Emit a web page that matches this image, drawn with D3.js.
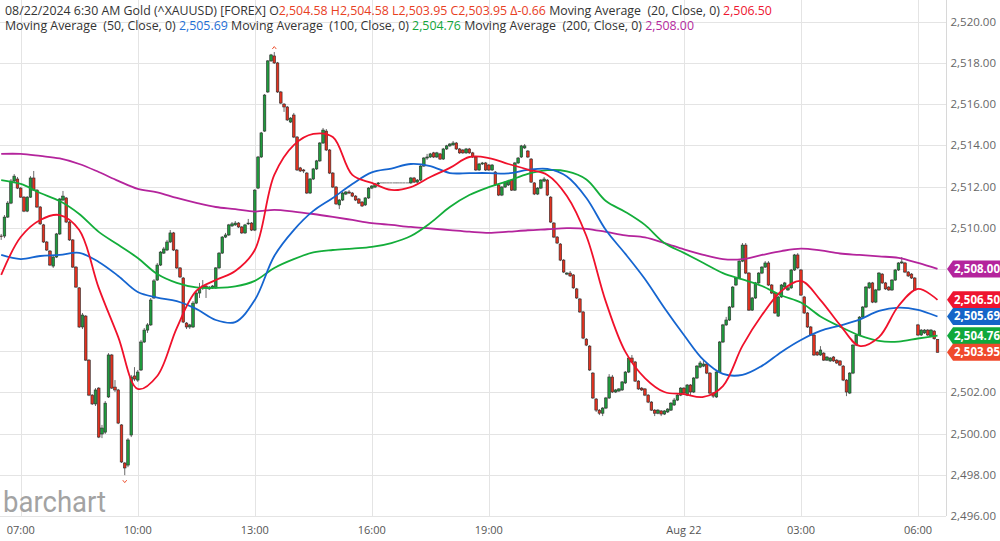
<!DOCTYPE html>
<html><head><meta charset="utf-8">
<script src="https://cdn.jsdelivr.net/npm/d3@7"></script>
<style>
html,body{margin:0;padding:0;background:#fff;}
svg{display:block;font-family:"Open Sans",sans-serif;}
</style></head><body>
<svg id="c" width="1000" height="541"></svg>
<script>
// ---------------- DATA ----------------
const startTime = new Date(2024, 7, 21, 6, 30);
const endTime = new Date(2024, 7, 22, 6, 30);
const barMinutes = 5;
const maStepMinutes = 30;

const openVals = [
2509.60,2509.60,2510.52,2511.20,2512.27,2512.37,2511.93,2511.49,2510.81,2511.49,
2512.42,2511.83,2511.01,2510.14,2509.31,2508.87,2508.14,2508.58,2509.70,2511.35,
2511.45,2510.28,2509.41,2508.09,2507.08,2505.18,2505.71,2503.57,2501.87,2501.44,
2502.21,2499.98,2500.07,2501.78,2503.82,2502.26,2502.12,2500.42,2498.57,2498.47,
2499.93,2502.80,2502.60,2503.09,2504.45,2505.03,2505.28,2506.59,2507.46,2508.19,
2508.77,2508.92,2509.31,2509.75,2508.92,2508.05,2507.56,2505.37,2505.18,2505.18,
2506.34,2506.83,2507.08,2507.17,2507.03,2507.08,2507.08,2508.05,2508.77,2509.55,
2509.65,2510.09,2510.14,2510.23,2510.04,2509.75,2510.19,2510.23,2509.89,2511.93,
2513.44,2514.70,2516.60,2518.11,2518.35,2518.01,2516.60,2516.01,2515.87,2515.14,
2515.48,2514.41,2512.91,2512.81,2512.66,2511.69,2512.37,2512.86,2513.25,2514.12,
2514.70,2513.78,2512.66,2511.98,2511.11,2511.35,2511.64,2511.74,2511.69,2511.54,
2511.40,2511.25,2511.11,2511.45,2511.93,2511.98,2512.13,2512.18,2512.18,2512.18,
2512.18,2512.18,2512.18,2512.18,2512.18,2512.18,2512.18,2512.42,2512.22,2512.32,
2513.00,2513.39,2513.44,2513.64,2513.44,2513.59,2513.34,2513.83,2513.98,2514.03,
2514.12,2513.83,2513.78,2513.64,2513.83,2513.64,2513.44,2512.81,2513.10,2513.15,
2513.05,2512.81,2512.71,2512.08,2511.59,2511.98,2512.08,2512.32,2511.83,2513.15,
2513.44,2513.88,2513.73,2513.34,2512.18,2511.64,2511.93,2512.27,2512.32,2511.49,
2510.23,2509.55,2509.21,2508.43,2507.75,2507.80,2507.71,2507.03,2506.54,2505.91,
2504.59,2504.25,2502.94,2501.68,2501.14,2500.99,2501.24,2501.73,2502.75,2502.02,
2502.07,2502.12,2502.46,2502.99,2503.67,2503.48,2502.55,2502.21,2502.17,2501.87,
2501.53,2501.14,2500.99,2501.10,2500.95,2501.05,2501.14,2501.39,2501.63,2501.87,
2502.21,2501.87,2502.36,2502.02,2502.70,2503.23,2503.28,2503.38,2502.94,2501.97,
2501.78,2502.99,2504.45,2505.28,2505.52,2506.15,2507.22,2507.56,2508.38,2509.16,
2507.80,2506.00,2506.59,2507.32,2507.80,2508.09,2508.29,2507.22,2506.83,2505.71,
2506.64,2507.12,2506.98,2507.08,2507.95,2508.68,2507.95,2506.64,2505.86,2505.18,
2504.79,2503.96,2503.82,2503.91,2503.57,2503.53,2503.72,2503.57,2503.53,2503.28,
2502.60,2501.97,2502.94,2504.30,2504.79,2505.66,2506.15,2507.08,2507.32,2506.39,
2506.98,2507.75,2507.32,2507.12,2506.98,2507.46,2507.95,2508.29,2508.29,2507.85,
2507.75,2507.56,2505.28,2504.79,2504.89,2505.03,2504.74,2504.98,2504.58];

const highVals = [
2509.70,2510.62,2511.30,2512.37,2512.61,2512.47,2511.98,2511.54,2511.54,2512.51,
2512.76,2511.88,2511.06,2510.19,2509.36,2508.92,2508.68,2509.75,2511.45,2511.79,
2511.49,2510.33,2509.45,2508.14,2507.12,2505.86,2505.76,2503.62,2501.92,2502.21,
2502.26,2500.42,2501.58,2503.91,2503.87,2502.60,2502.17,2500.46,2498.62,2499.78,
2502.85,2503.23,2503.09,2504.55,2505.13,2505.37,2506.59,2507.51,2508.29,2508.87,
2509.07,2509.41,2509.89,2509.80,2508.97,2508.09,2507.61,2505.42,2505.33,2506.44,
2506.93,2507.32,2507.46,2507.22,2507.17,2507.22,2508.09,2508.82,2509.60,2509.75,
2510.19,2510.28,2510.33,2510.28,2510.09,2510.19,2510.43,2510.28,2511.88,2513.49,
2514.66,2516.50,2518.15,2518.45,2518.54,2518.06,2516.65,2516.06,2515.92,2515.38,
2515.58,2514.46,2512.96,2512.86,2512.71,2512.42,2512.91,2513.30,2514.17,2514.85,
2514.80,2513.83,2512.71,2512.03,2511.40,2511.74,2511.79,2511.83,2511.74,2511.59,
2511.45,2511.30,2511.49,2511.98,2512.08,2512.18,2512.22,2512.18,2512.18,2512.18,
2512.18,2512.18,2512.18,2512.18,2512.18,2512.18,2512.47,2512.47,2512.37,2513.05,
2513.44,2513.59,2513.64,2513.69,2513.69,2513.64,2513.88,2514.03,2514.12,2514.22,
2514.17,2513.88,2513.83,2513.88,2513.88,2513.69,2513.49,2513.15,2513.20,2513.20,
2513.10,2513.10,2512.76,2512.13,2512.03,2512.27,2512.32,2512.37,2513.20,2513.44,
2514.03,2514.07,2513.78,2513.39,2512.22,2511.98,2512.37,2512.47,2512.37,2511.54,
2510.28,2509.60,2509.26,2508.48,2507.85,2507.90,2507.75,2507.08,2506.59,2505.96,
2504.64,2504.30,2502.99,2501.73,2501.19,2501.29,2501.78,2502.89,2502.85,2502.17,
2502.21,2502.55,2503.04,2503.72,2503.82,2503.53,2502.60,2502.26,2502.21,2501.92,
2501.58,2501.19,2501.19,2501.14,2501.14,2501.24,2501.53,2501.73,2501.92,2502.26,
2502.26,2502.41,2502.41,2502.75,2503.33,2503.53,2503.57,2503.43,2502.99,2502.02,
2503.04,2504.50,2505.33,2505.67,2506.20,2507.17,2507.61,2508.43,2509.26,2509.26,
2507.85,2506.64,2507.37,2507.85,2508.14,2508.38,2508.38,2507.27,2506.88,2506.69,
2507.27,2507.37,2507.12,2508.00,2508.73,2508.77,2508.00,2506.69,2505.91,2505.23,
2504.84,2504.01,2504.25,2503.96,2503.77,2503.72,2503.77,2503.62,2503.57,2503.33,
2502.65,2502.99,2504.35,2504.84,2505.71,2506.20,2507.17,2507.37,2507.37,2507.03,
2507.85,2507.80,2507.37,2507.17,2507.51,2508.00,2508.33,2508.58,2508.34,2507.90,
2507.80,2507.61,2505.33,2505.08,2505.08,2505.08,2505.08,2505.03,2504.58];

const lowVals = [
2509.41,2509.50,2510.48,2511.15,2512.22,2511.88,2511.45,2510.76,2510.76,2511.45,
2511.79,2510.96,2510.14,2509.26,2508.87,2508.14,2508.05,2508.53,2509.65,2511.30,
2510.23,2509.36,2508.05,2507.08,2505.13,2505.08,2503.53,2501.82,2501.39,2501.34,
2499.78,2499.78,2499.98,2501.73,2502.17,2502.02,2500.46,2498.57,2497.98,2498.37,
2499.83,2502.55,2502.51,2503.04,2504.40,2504.89,2505.23,2506.54,2507.42,2508.14,
2508.73,2508.87,2509.26,2508.87,2508.00,2507.56,2505.37,2505.08,2505.08,2505.13,
2506.29,2506.59,2506.98,2506.59,2506.98,2507.03,2507.03,2508.00,2508.73,2509.50,
2509.60,2510.04,2510.09,2509.99,2509.70,2509.70,2510.14,2509.84,2509.84,2511.88,
2513.39,2514.66,2516.55,2518.06,2517.96,2516.55,2516.01,2515.63,2515.19,2515.09,
2514.36,2512.76,2512.71,2512.66,2511.64,2511.64,2512.32,2512.81,2513.20,2514.07,
2513.73,2512.61,2511.93,2511.11,2510.91,2511.30,2511.59,2511.64,2511.49,2511.30,
2511.16,2511.01,2511.06,2511.40,2511.88,2511.93,2512.08,2512.18,2512.18,2512.18,
2512.18,2512.18,2512.18,2512.18,2512.18,2512.18,2512.13,2512.18,2512.18,2512.27,
2512.96,2513.30,2513.39,2513.39,2513.39,2513.30,2513.30,2513.78,2513.93,2513.98,
2513.78,2513.59,2513.59,2513.59,2513.59,2513.39,2512.76,2512.76,2513.05,2512.76,
2512.76,2512.76,2512.03,2511.54,2511.54,2511.93,2512.03,2511.79,2511.79,2513.10,
2513.39,2513.83,2513.39,2512.18,2511.59,2511.59,2511.88,2512.22,2511.54,2510.23,
2509.50,2509.21,2508.38,2507.80,2507.70,2507.61,2507.03,2506.54,2505.86,2504.59,
2504.25,2503.04,2501.68,2501.05,2500.90,2500.85,2501.19,2501.68,2501.97,2501.97,
2502.02,2502.07,2502.41,2502.94,2503.43,2502.51,2502.12,2502.07,2501.82,2501.48,
2501.10,2500.85,2500.94,2500.85,2500.90,2501.00,2501.10,2501.34,2501.58,2501.82,
2501.92,2501.82,2501.87,2501.97,2502.65,2503.18,2503.23,2502.89,2501.92,2501.73,
2501.73,2502.94,2504.40,2505.23,2505.47,2506.10,2507.17,2507.51,2508.33,2507.75,
2505.96,2505.96,2506.54,2507.27,2507.75,2508.05,2507.17,2506.78,2505.81,2505.67,
2506.59,2507.08,2506.93,2507.03,2507.90,2508.00,2506.69,2505.81,2505.13,2504.74,
2503.77,2503.77,2503.77,2503.53,2503.53,2503.48,2503.48,2503.38,2503.28,2502.55,
2501.82,2501.92,2502.89,2504.25,2504.74,2505.61,2506.10,2507.03,2506.34,2506.34,
2506.93,2507.27,2506.98,2506.93,2506.93,2507.42,2507.90,2508.24,2507.80,2507.61,
2507.51,2506.93,2504.74,2504.74,2504.84,2504.74,2504.69,2504.56,2503.95];

const closeVals = [
2509.58,2510.52,2511.20,2512.27,2512.51,2511.93,2511.49,2510.81,2511.49,2512.42,
2511.83,2511.01,2510.19,2509.31,2508.92,2508.19,2508.58,2509.70,2511.40,2511.54,
2510.28,2509.41,2508.09,2507.12,2505.18,2505.76,2503.57,2501.87,2501.44,2502.12,
2499.83,2500.27,2501.48,2503.82,2502.21,2502.12,2500.51,2498.62,2498.33,2499.69,
2502.75,2502.65,2502.99,2504.45,2505.03,2505.28,2506.49,2507.42,2508.19,2508.82,
2508.97,2509.31,2509.75,2508.92,2508.05,2507.61,2505.42,2505.18,2505.28,2506.34,
2506.83,2507.08,2507.17,2507.08,2507.12,2507.17,2508.05,2508.77,2509.55,2509.65,
2510.14,2510.19,2510.23,2510.04,2509.75,2510.14,2510.23,2509.89,2511.83,2513.44,
2514.61,2516.45,2518.11,2518.40,2518.01,2516.60,2516.06,2515.87,2515.24,2515.33,
2514.41,2512.81,2512.76,2512.76,2511.69,2512.37,2512.86,2513.25,2514.12,2514.75,
2513.78,2512.66,2511.98,2511.16,2511.35,2511.69,2511.74,2511.69,2511.54,2511.35,
2511.20,2511.06,2511.45,2511.93,2512.03,2512.13,2512.18,2512.18,2512.18,2512.18,
2512.18,2512.18,2512.18,2512.18,2512.18,2512.18,2512.42,2512.22,2512.32,2513.00,
2513.39,2513.44,2513.59,2513.44,2513.64,2513.34,2513.83,2513.98,2514.07,2514.12,
2513.83,2513.64,2513.64,2513.83,2513.64,2513.44,2512.81,2513.10,2513.15,2512.81,
2512.81,2513.05,2512.08,2511.59,2511.98,2512.22,2512.27,2511.83,2513.15,2513.39,
2513.98,2513.98,2513.44,2512.22,2511.64,2511.93,2512.32,2512.37,2511.59,2510.28,
2509.55,2509.26,2508.43,2507.85,2507.80,2507.66,2507.08,2506.59,2505.91,2504.64,
2504.30,2503.09,2501.73,2501.14,2500.99,2501.24,2501.73,2502.75,2502.02,2502.12,
2502.17,2502.51,2502.99,2503.67,2503.48,2502.55,2502.17,2502.12,2501.87,2501.53,
2501.14,2500.99,2501.14,2500.95,2501.10,2501.19,2501.48,2501.63,2501.87,2502.21,
2501.97,2502.36,2502.02,2502.70,2503.28,2503.43,2503.38,2502.94,2501.97,2501.82,
2502.99,2504.45,2505.28,2505.52,2506.15,2507.12,2507.56,2508.38,2509.16,2507.80,
2506.00,2506.59,2507.32,2507.80,2508.09,2508.29,2507.22,2506.83,2505.86,2506.64,
2507.22,2507.32,2507.08,2507.95,2508.68,2508.05,2506.73,2505.86,2505.18,2504.79,
2503.82,2503.82,2504.06,2503.57,2503.72,2503.67,2503.53,2503.43,2503.33,2502.60,
2502.02,2502.94,2504.30,2504.79,2505.66,2506.15,2507.12,2507.32,2506.39,2506.98,
2507.80,2507.32,2507.03,2506.98,2507.46,2507.95,2508.29,2508.34,2507.85,2507.66,
2507.56,2506.98,2504.79,2505.03,2505.03,2504.79,2505.03,2504.61,2503.95];

// Moving averages, read every 30 minutes from 06:30
const ma20Vals = [2507.71,2509.55,2510.38,2510.62,2509.89,2507.08,2504.69,2502.17,2502.80,2505.13,
2506.93,2507.46,2507.90,2508.92,2512.57,2514.02,2514.56,2514.41,2512.57,2512.18,
2511.84,2511.98,2512.47,2512.91,2513.44,2513.39,2513.10,2512.83,2512.57,2511.55,
2509.60,2506.40,2503.97,2502.70,2502.02,2501.92,2501.78,2502.31,2504.26,2505.76,
2506.93,2507.42,2506.49,2505.28,2504.26,2504.69,2506.20,2507.03,2506.50];
const ma50Vals = [2508.68,2508.48,2508.63,2508.68,2508.78,2508.34,2507.66,2506.88,2506.61,2506.44,
2506.06,2505.52,2505.42,2506.49,2508.63,2509.89,2510.82,2511.45,2512.13,2512.69,
2512.88,2513.10,2513.00,2512.66,2512.66,2512.66,2512.64,2512.81,2512.86,2512.49,
2511.45,2509.89,2508.73,2507.51,2506.10,2504.79,2503.58,2502.90,2502.85,2503.29,
2503.97,2504.55,2504.99,2505.25,2505.54,2505.96,2506.12,2506.01,2505.69];
const ma100Vals = [2512.32,2512.13,2511.69,2511.30,2510.67,2509.80,2509.17,2508.53,2507.75,2507.32,
2507.10,2507.08,2507.15,2507.42,2508.05,2508.48,2508.80,2508.92,2508.99,2509.07,
2509.26,2509.60,2510.23,2511.01,2511.59,2511.98,2512.28,2512.62,2512.80,2512.74,
2512.35,2511.30,2510.77,2510.14,2509.26,2508.78,2508.29,2507.80,2507.49,2507.17,
2506.71,2506.37,2505.69,2505.20,2504.77,2504.50,2504.47,2504.62,2504.76];
const ma200Vals = [2513.59,2513.59,2513.49,2513.37,2513.10,2512.71,2512.28,2511.89,2511.72,2511.45,
2511.21,2511.01,2510.91,2510.79,2510.87,2510.79,2510.67,2510.53,2510.38,2510.23,
2510.14,2510.04,2509.97,2509.89,2509.81,2509.75,2509.81,2509.88,2509.93,2509.98,
2509.95,2509.80,2509.63,2509.53,2509.26,2508.95,2508.68,2508.48,2508.48,2508.68,
2508.87,2508.99,2508.90,2508.75,2508.68,2508.61,2508.54,2508.29,2508.00];

const priceTicks = [2496,2498,2500,2502,2504,2506,2508,2510,2512,2514,2516,2518,2520];
const timeTickDates = [new Date(2024,7,21,7,0),new Date(2024,7,21,10,0),new Date(2024,7,21,13,0),
  new Date(2024,7,21,16,0),new Date(2024,7,21,19,0),new Date(2024,7,22,0,0),
  new Date(2024,7,22,3,0),new Date(2024,7,22,6,0)];
const timeTickLabels = ["07:00","10:00","13:00","16:00","19:00","Aug 22","03:00","06:00"];
const maPeriods = [20, 50, 100, 200];

// ---------------- DRAW ----------------
const svg = d3.select("#c");
const plotRight = 946, plotBottom = 516;
const x = d3.scaleTime().domain([startTime, endTime]).range([1.2, 937.5]);
const y = d3.scaleLinear().domain([2496, 2520]).range([515.9, 22]);
const fmt = d3.format(",.2f");

const candles = openVals.map((o, i) => ({
  t: new Date(+startTime + i * barMinutes * 60000),
  o, h: highVals[i], l: lowVals[i], c: closeVals[i]
}));
const last = candles[candles.length - 1];
const prev = candles[candles.length - 2];
const tags = [
  {v: ma200Vals[ma200Vals.length - 1], c: "#b4249c"},
  {v: ma20Vals[ma20Vals.length - 1], c: "#ee1530"},
  {v: ma50Vals[ma50Vals.length - 1], c: "#1565c8"},
  {v: ma100Vals[ma100Vals.length - 1], c: "#10a83b"},
  {v: last.c, c: "#f04a2c"}
];

const gridColor = "#e4e4e4";
const g = svg.append("g");
g.selectAll("line.h").data(priceTicks).join("line")
  .attr("x1", 0).attr("x2", plotRight)
  .attr("y1", d => Math.round(y(d)) + 0.5).attr("y2", d => Math.round(y(d)) + 0.5)
  .attr("stroke", gridColor).attr("stroke-width", 1);
g.selectAll("line.v").data(timeTickDates).join("line")
  .attr("x1", d => Math.round(x(d)) + 0.5).attr("x2", d => Math.round(x(d)) + 0.5)
  .attr("y1", 0).attr("y2", plotBottom)
  .attr("stroke", gridColor).attr("stroke-width", 1);
g.append("line").attr("x1", plotRight + 0.5).attr("x2", plotRight + 0.5).attr("y1", 0).attr("y2", plotBottom)
  .attr("stroke", "#d8d8d8");

// price axis labels (those hidden behind a price tag are skipped)
const visibleTicks = priceTicks.filter(p => tags.every(t => Math.abs(y(p) - y(t.v)) > 13));
svg.append("g").selectAll("text").data(visibleTicks).join("text")
  .attr("x", 996).attr("y", d => y(d) + 4)
  .attr("text-anchor", "end").attr("font-size", 11.5).attr("fill", "#666")
  .text(d => fmt(d));

// time axis labels
svg.append("g").selectAll("text").data(timeTickDates).join("text")
  .attr("x", d => x(d)).attr("y", 534)
  .attr("text-anchor", "middle").attr("font-size", 11).attr("fill", "#555")
  .text((d, i) => timeTickLabels[i]);

// logo
svg.append("text").attr("x", 3).attr("y", 512).attr("font-size", 29)
  .attr("font-family", "Roboto, sans-serif").attr("fill", "#a3a3a3")
  .attr("textLength", 103).attr("lengthAdjust", "spacingAndGlyphs").text("barchart");

// clip
svg.append("clipPath").attr("id", "clip").append("rect")
  .attr("x", 0).attr("y", 0).attr("width", plotRight).attr("height", plotBottom);
const plot = svg.append("g").attr("clip-path", "url(#clip)");

// candles
const bw = 2.6;
const upColor = "#1f9a3c", downColor = "#e2311f", edge = "#2a2a2a";
const cg = plot.append("g");
cg.selectAll("line").data(candles).join("line")
  .attr("x1", d => x(d.t)).attr("x2", d => x(d.t))
  .attr("y1", d => y(Math.max(d.h, d.o, d.c))).attr("y2", d => y(Math.min(d.l, d.o, d.c)))
  .attr("stroke", "#444").attr("stroke-width", 0.8);
cg.selectAll("rect").data(candles).join("rect")
  .attr("x", d => x(d.t) - bw / 2).attr("width", bw)
  .attr("y", d => y(Math.max(d.o, d.c)))
  .attr("height", d => Math.max(0.01, Math.abs(y(d.o) - y(d.c))))
  .attr("fill", d => d.c >= d.o ? upColor : downColor)
  .attr("stroke", edge).attr("stroke-width", 0.6);

// high / low markers
const hiI = d3.maxIndex(candles, d => d.h), loI = d3.minIndex(candles, d => d.l);
const hx = x(candles[hiI].t), hy = y(candles[hiI].h) - 3;
plot.append("path").attr("d", `M${hx-2},${hy} L${hx},${hy-2.5} L${hx+2},${hy}`)
  .attr("fill", "none").attr("stroke", "#ee5533").attr("stroke-width", 1);
const lx = x(candles[loI].t), ly = y(candles[loI].l) + 5;
plot.append("path").attr("d", `M${lx-2},${ly} L${lx},${ly+2.5} L${lx+2},${ly}`)
  .attr("fill", "none").attr("stroke", "#ee5533").attr("stroke-width", 1);

// moving averages
const maColors = ["#f0112b", "#1565d0", "#13ad3a", "#b4249c"];
const maSeries = [ma20Vals, ma50Vals, ma100Vals, ma200Vals];
const maLine = d3.line()
  .x((d, k) => x(new Date(+startTime + k * maStepMinutes * 60000)))
  .y(d => y(d))
  .curve(d3.curveCatmullRom.alpha(0.5));
[3, 2, 1, 0].forEach(j => {
  plot.append("path").attr("d", maLine(maSeries[j]))
    .attr("fill", "none").attr("stroke", maColors[j]).attr("stroke-width", 1.8);
});

// tags
const tg = svg.append("g");
tags.forEach(t => {
  const cy = y(t.v), hh = 8.5;
  tg.append("path").attr("d", `M947,${cy} L953,${cy-hh} L1000,${cy-hh} L1000,${cy+hh} L953,${cy+hh} Z`)
    .attr("fill", t.c);
  tg.append("text").attr("x", 977).attr("y", cy + 4).attr("text-anchor", "middle")
    .attr("font-size", 11.5).attr("font-weight", "bold").attr("fill", "#fff").text(fmt(t.v));
});

// header
const dark = "#333";
const line1 = [
  ["08/22/2024 6:30 AM Gold (^XAUUSD) [FOREX] O", dark],
  [`${fmt(last.o)} H${fmt(last.h)} L${fmt(last.l)} C${fmt(last.c)} Δ${(last.c - prev.c).toFixed(2)}`, "#e8401f"],
  [` Moving Average  (${maPeriods[0]}, Close, 0) `, dark],
  [fmt(ma20Vals[ma20Vals.length - 1]), "#ee1530"]
];
const line2 = [
  [`Moving Average  (${maPeriods[1]}, Close, 0) `, dark],
  [fmt(ma50Vals[ma50Vals.length - 1]), "#1f6fd6"],
  [` Moving Average  (${maPeriods[2]}, Close, 0) `, dark],
  [fmt(ma100Vals[ma100Vals.length - 1]), "#12a53a"],
  [` Moving Average  (${maPeriods[3]}, Close, 0) `, dark],
  [fmt(ma200Vals[ma200Vals.length - 1]), "#b52a9e"]
];
function header(parts, yy) {
  const t = svg.append("text").attr("x", 5).attr("y", yy).attr("font-size", 13)
    .style("white-space", "pre");
  parts.forEach(p => t.append("tspan").attr("fill", p[1]).text(p[0]));
  return t;
}
const h1 = header(line1, 14.5);
const h2 = header(line2, 29.5);
const w1 = h1.node().getComputedTextLength();
const fs = 13 * 768 / w1;
h1.attr("font-size", fs);
h2.attr("font-size", fs);
</script>
</body></html>
